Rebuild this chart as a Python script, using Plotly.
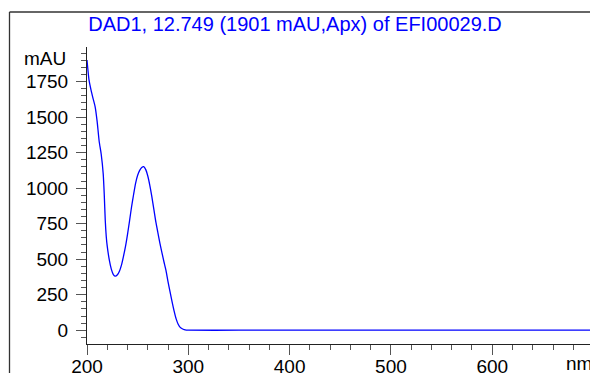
import plotly.graph_objects as go

# UV spectrum at the apex of the 12.749 min peak (DAD1)
wavelength_nm = [200, 202, 204, 206, 208, 210, 212, 214, 216, 217, 218, 219, 220,
                 222, 224, 226, 228, 230, 232, 234, 236, 238, 240, 242, 244, 246,
                 248, 250, 252, 254, 256, 258, 260, 262, 264, 266, 268, 270, 272,
                 274, 276, 278, 280, 282, 284, 286, 288, 290, 292, 294, 296, 298,
                 300, 350, 400, 450, 500, 550, 600, 650, 700]
absorbance_mau = [1901, 1760, 1690, 1630, 1574, 1470, 1330, 1240, 1100, 960, 775, 660, 590,
                  495, 430, 392, 380, 390, 415, 458, 520, 590, 675, 770, 869, 955,
                  1035, 1090, 1125, 1145, 1151, 1130, 1085, 1020, 940, 850, 760, 685, 611,
                  545, 480, 420, 340, 270, 200, 135, 80, 42, 20, 10, 4, 1,
                  0, 0, 0, 0, 0, 0, 0, 0, 0]

x_ticks = [200, 300, 400, 500, 600]
y_ticks = [0, 250, 500, 750, 1000, 1250, 1500, 1750]

title_text = "DAD1, 12.749 (1901 mAU,Apx) of EFI00029.D"

W, H = 590, 373
L, R, T, B = 87, 0, 47, 29
pw, ph = W - L - R, H - T - B


def px_to_paper_x(px):
    return (px - L) / pw


def px_to_paper_y(py):
    return (H - B - py) / ph


fig = go.Figure()
fig.add_trace(go.Scatter(
    x=wavelength_nm, y=absorbance_mau, mode="lines",
    line=dict(color="#0000ff", width=1.3, shape="spline", smoothing=0.6),
    hoverinfo="skip", showlegend=False,
))

axis_font = dict(family="Liberation Sans, Arial, sans-serif", size=19, color="#000000")

fig.update_xaxes(
    range=[200, 696.5], tickvals=x_ticks, showgrid=False, zeroline=False,
    showline=True, linecolor="#222222", linewidth=1, automargin=False,
    ticks="outside", ticklen=10, tickcolor="#555555", tickwidth=1,
    minor=dict(dtick=20, tick0=200, ticks="outside", ticklen=5, tickcolor="#555555", tickwidth=1),
    tickfont=axis_font, ticklabelstandoff=-5,
)
fig.update_yaxes(
    range=[-97, 1993], tickvals=y_ticks, showgrid=False, zeroline=False,
    showline=True, linecolor="#222222", linewidth=1, automargin=False,
    ticks="outside", ticklen=10, tickcolor="#555555", tickwidth=1,
    minor=dict(dtick=50, tick0=0, ticks="outside", ticklen=5, tickcolor="#555555", tickwidth=1),
    tickfont=axis_font, ticklabelstandoff=4,
)

# unit labels
fig.add_annotation(text="mAU", xref="paper", yref="paper",
                   x=px_to_paper_x(68), y=px_to_paper_y(58.5),
                   xanchor="right", yanchor="middle", showarrow=False, font=axis_font)
fig.add_annotation(text="nm", xref="paper", yref="paper",
                   x=px_to_paper_x(564), y=px_to_paper_y(351),
                   xanchor="left", yanchor="top", showarrow=False, font=axis_font)

# outer frame (left and top edges)
frame = dict(color="#333333", width=1.3)
fig.add_shape(type="line", xref="paper", yref="paper",
              x0=px_to_paper_x(9.5), x1=px_to_paper_x(9.5),
              y0=px_to_paper_y(12), y1=px_to_paper_y(380), line=frame)
fig.add_shape(type="line", xref="paper", yref="paper",
              x0=px_to_paper_x(9.5), x1=px_to_paper_x(600),
              y0=px_to_paper_y(12), y1=px_to_paper_y(12), line=frame)

fig.update_layout(
    width=W, height=H,
    margin=dict(l=L, r=R, t=T, b=B, pad=0, autoexpand=False),
    paper_bgcolor="white", plot_bgcolor="white",
    title=dict(text=title_text, xref="container", yref="container",
               x=0.5, xanchor="center", y=1 - 24 / H, yanchor="middle",
               font=dict(family="Liberation Sans, Arial, sans-serif", size=20, color="#0000ff")),
)

fig.write_html("out.html", include_plotlyjs=True, config=dict(displayModeBar=False))
